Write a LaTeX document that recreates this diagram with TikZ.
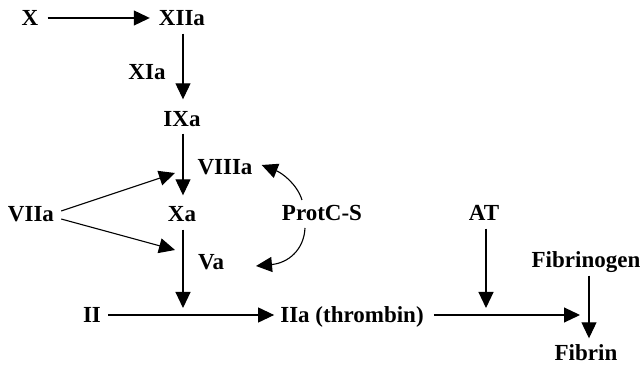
\documentclass[tikz,border=0pt]{standalone}
\usepackage{fontspec}
\setmainfont{Liberation Serif}
\usetikzlibrary{arrows.meta}
\begin{document}
\begin{tikzpicture}[x=1pt,y=-1pt,
  lbl/.style={font=\fontsize{23}{25}\selectfont\bfseries, inner sep=0pt,
              text height=15pt, text depth=0pt, anchor=center},
  arr/.style={line width=1.1pt, -{Triangle[length=16pt,width=15pt]}},
  ln/.style={line width=1.1pt}]
\useasboundingbox (0,0) rectangle (641,366);

% factors
\node[lbl] (X)     at (30,18)   {X};
\node[lbl] (XIIa)  at (182,18)  {XIIa};
\node[lbl] (XIa)   at (147,72)  {XIa};
\node[lbl] (IXa)   at (182,119) {IXa};
\node[lbl] (VIIIa) at (225,167) {VIIIa};
\node[lbl] (VIIa)  at (31,214)  {VIIa};
\node[lbl] (Xa)    at (182,214) {Xa};
\node[lbl] (Prot)  at (322,213) {ProtC-S};
\node[lbl] (Va)    at (211,262) {Va};
\node[lbl] (II)    at (92,315)  {II};
\node[lbl] (IIa)   at (352,315) {IIa (thrombin)};
\node[lbl] (AT)    at (484,213) {AT};
\node[lbl] (Fbg)   at (586,260) {Fibrinogen};
\node[lbl] (Fbn)   at (586,353) {Fibrin};

% junction points on the horizontal arrows
\coordinate (J1) at (183,308);
\coordinate (J2) at (486,308);
\coordinate (E)  at (580,315);

% cascade arrows
\draw[arr] ([xshift=9pt]X.east) -- ([xshift=-9pt]XIIa.west);
\draw[arr] ([xshift=1pt,yshift=-8pt]XIIa.south) -- ([xshift=1pt,yshift=12pt]IXa.north);
\draw[arr] ([xshift=1pt,yshift=-7pt]IXa.south) -- ([xshift=1pt,yshift=11pt]Xa.north);
\draw[arr] ([xshift=7pt,yshift=3pt]VIIa.east) -- (175,173);
\draw[arr] ([xshift=7pt,yshift=-5pt]VIIa.east) -- (175,250);
\draw[arr] ([xshift=1pt,yshift=-8pt]Xa.south) -- (J1);
\draw[arr] ([xshift=7pt]II.east) -- ([xshift=-6pt]IIa.west);
\draw[arr] ([xshift=10pt]IIa.east) -- (E);
\draw[arr] ([xshift=2pt,yshift=-8pt]AT.south) -- (J2);
\draw[arr] ([xshift=3pt,yshift=-8pt]Fbg.south) -- ([xshift=3pt,yshift=7pt]Fbn.north);

% protein C / S feedback loops
\draw[arr] (302,200) .. controls (297,184) and (282,173) .. ([xshift=9pt,yshift=2pt]VIIIa.east);
\draw[arr] (305,228) .. controls (304,250) and (288,263) .. (256,266);
\end{tikzpicture}
\end{document}
